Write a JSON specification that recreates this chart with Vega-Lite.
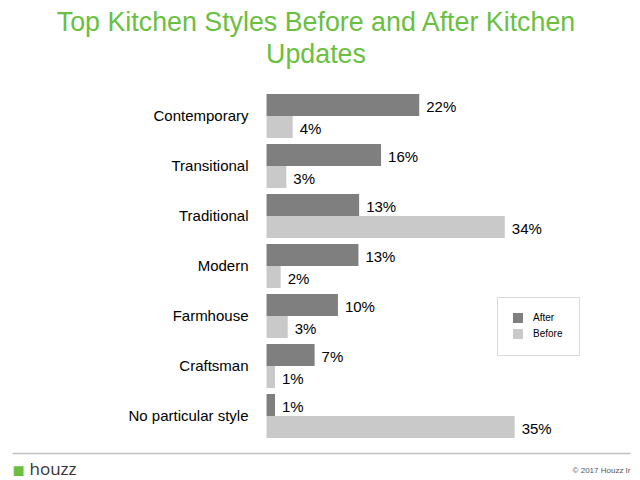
{
  "$schema": "https://vega.github.io/schema/vega-lite/v6.json",
  "autosize": "none",
  "width": 618,
  "height": 350,
  "padding": {"left": 12, "top": 91, "right": 10, "bottom": 39},
  "background": "white",
  "title": {
    "text": ["Top Kitchen Styles Before and After Kitchen", "Updates"],
    "font": "Liberation Sans",
    "fontSize": 26.8,
    "fontWeight": "normal",
    "color": "#6abf40",
    "lineHeight": 32,
    "anchor": "middle",
    "frame": "group",
    "dx": -5,
    "offset": 22
  },
  "config": {
    "view": {"stroke": null},
    "font": "Liberation Sans"
  },
  "data": {
    "values": [
      {"style": "Contemporary", "series": "After", "value": 0.216},
      {"style": "Contemporary", "series": "Before", "value": 0.037},
      {"style": "Transitional", "series": "After", "value": 0.162},
      {"style": "Transitional", "series": "Before", "value": 0.028},
      {"style": "Traditional", "series": "After", "value": 0.131},
      {"style": "Traditional", "series": "Before", "value": 0.337},
      {"style": "Modern", "series": "After", "value": 0.13},
      {"style": "Modern", "series": "Before", "value": 0.02},
      {"style": "Farmhouse", "series": "After", "value": 0.101},
      {"style": "Farmhouse", "series": "Before", "value": 0.03},
      {"style": "Craftsman", "series": "After", "value": 0.068},
      {"style": "Craftsman", "series": "Before", "value": 0.012},
      {"style": "No particular style", "series": "After", "value": 0.012},
      {"style": "No particular style", "series": "Before", "value": 0.351}
    ]
  },
  "encoding": {
    "y": {
      "field": "style",
      "type": "nominal",
      "sort": null,
      "scale": {"paddingInner": 0.12, "paddingOuter": 0.06},
      "axis": {
        "title": null,
        "offset": -236,
        "domain": false,
        "ticks": false,
        "labelPadding": 0,
        "labelFontSize": 15,
        "labelColor": "#000000",
        "labelFont": "Liberation Sans",
        "labelLimit": 300
      }
    },
    "yOffset": {
      "field": "series",
      "type": "nominal",
      "sort": ["After", "Before"],
      "scale": {"paddingInner": 0, "paddingOuter": 0}
    },
    "x": {
      "field": "value",
      "type": "quantitative",
      "scale": {"domain": [-0.36, 0.5141], "nice": false, "zero": false},
      "axis": {
        "title": "houzz",
        "titleFont": "Open Sans",
        "titleFontSize": 17,
        "titleFontWeight": "normal",
        "titleColor": "#333333",
        "titleAnchor": "start",
        "titleAlign": "left",
        "titleBaseline": "alphabetic",
        "titleX": 17,
        "titleY": 21,
        "offset": 12,
        "grid": false,
        "ticks": false,
        "domainColor": "#c0c0c0",
        "domainWidth": 1.5,
        "values": [-0.36, 0.5141],
        "labelFlush": false,
        "labelOverlap": false,
        "labelExpr": "datum.value < 0 ? '■' : '© 2017 Houzz Ir'",
        "labelAlign": {"condition": {"test": "datum.value < 0", "value": "left"}, "value": "right"},
        "labelColor": {"condition": {"test": "datum.value < 0", "value": "#6abf40"}, "value": "#555555"},
        "labelFontSize": {"condition": {"test": "datum.value < 0", "value": 20}, "value": 8},
        "labelBaseline": "middle",
        "labelPadding": 17
      }
    }
  },
  "layer": [
    {
      "mark": {"type": "bar"},
      "encoding": {
        "color": {
          "field": "series",
          "type": "nominal",
          "scale": {"domain": ["After", "Before"], "range": ["#7f7f7f", "#c9c9c9"]},
          "legend": {
            "orient": "none",
            "legendX": 485,
            "legendY": 206,
            "title": null,
            "strokeColor": "#d9d9d9",
            "fillColor": "white",
            "padding": 16,
            "symbolType": "square",
            "symbolSize": 100,
            "symbolStrokeWidth": 0,
            "labelFontSize": 10,
            "labelColor": "#000000",
            "labelOffset": 10,
            "rowPadding": 6
          }
        }
      }
    },
    {
      "mark": {"type": "text", "align": "left", "baseline": "middle", "dx": 7, "dy": 1.5, "fontSize": 15, "color": "#000000", "font": "Liberation Sans"},
      "encoding": {
        "text": {"field": "value", "type": "quantitative", "format": ".0%"}
      }
    }
  ]
}
